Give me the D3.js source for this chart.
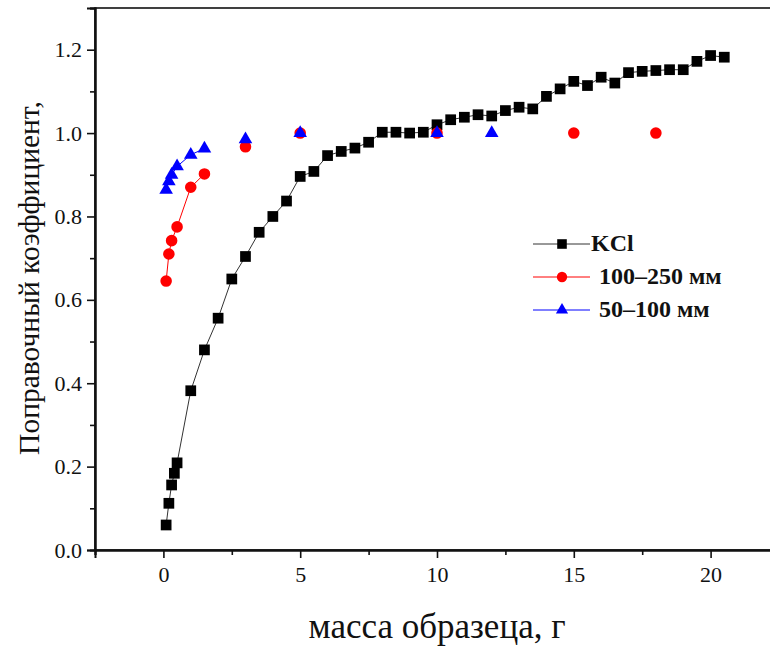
<!DOCTYPE html>
<html>
<head>
<meta charset="utf-8">
<script src="https://cdn.jsdelivr.net/npm/d3@7"></script>
<style>
    body { margin: 0; background: #fff; }
    svg { display: block; }
    svg text { font-family: "Liberation Serif", "Times New Roman", serif; }
    .tick text { font-size: 22px; fill: #111; }
</style>
</head>
<body>
<div id="container"><svg></svg></div>
<script>
const SVG_WIDTH = 770;
const SVG_HEIGHT = 646;

// KCl
const kcl_x = [0.1, 0.2, 0.3, 0.4, 0.5, 1.0, 1.5, 2.0, 2.5, 3.0, 3.5, 4.0, 4.5, 5.0, 5.5,
    6.0, 6.5, 7.0, 7.5, 8.0, 8.5, 9.0, 9.5, 10.0, 10.5, 11.0, 11.5, 12.0, 12.5, 13.0,
    13.5, 14.0, 14.5, 15.0, 15.5, 16.0, 16.5, 17.0, 17.5, 18.0, 18.5, 19.0, 19.5, 20.0, 20.5];
const kcl_y = [0.06, 0.112, 0.156, 0.184, 0.209, 0.382, 0.48, 0.556, 0.65, 0.704, 0.762, 0.8, 0.837, 0.896, 0.908,
    0.946, 0.956, 0.964, 0.978, 1.002, 1.002, 1.0, 1.002, 1.02, 1.032, 1.038, 1.044, 1.041, 1.054, 1.062,
    1.058, 1.088, 1.106, 1.124, 1.114, 1.134, 1.12, 1.145, 1.148, 1.15, 1.152, 1.152, 1.172, 1.186, 1.182];

// 100–250 мм
const big_x = [0.1, 0.2, 0.3, 0.5, 1.0, 1.5, 3.0, 5.0, 10.0, 15.0, 18.0];
const big_y = [0.645, 0.71, 0.742, 0.775, 0.87, 0.902, 0.967, 1.0, 1.0, 1.0, 1.0];

// 50–100 мм
const small_x = [0.1, 0.2, 0.3, 0.5, 1.0, 1.5, 3.0, 5.0, 10.0, 12.0];
const small_y = [0.864, 0.884, 0.9, 0.92, 0.948, 0.963, 0.985, 1.0, 1.0, 1.0];

// only the first points of the two fractions are joined by a line in the original
const JOINED = 6;

const x_ticks = [0, 5, 10, 15, 20];
const x_minor = [-2.5, 2.5, 7.5, 12.5, 17.5, 22.5];
const y_ticks = [0.0, 0.2, 0.4, 0.6, 0.8, 1.0, 1.2];
const y_minor = [0.1, 0.3, 0.5, 0.7, 0.9, 1.1, 1.3];

const series = [
    {name: 'KCl', xs: kcl_x, ys: kcl_y, color: '#000', line: '#333', symbol: d3.symbolSquare, size: 115, joined: kcl_x.length},
    {name: '100\u2013250 мм', xs: big_x, ys: big_y, color: '#ff0000', line: '#ff0000', symbol: d3.symbolCircle, size: 105, joined: JOINED},
    {name: '50\u2013100 мм', xs: small_x, ys: small_y, color: '#0000ff', line: '#0000ff', symbol: d3.symbolTriangle, size: 80, joined: JOINED}
];

const PLOT = {left: 95, right: 779, top: 8, bottom: 550};

let x = d3.scaleLinear().domain([-2.5, 22.5]).range([PLOT.left, PLOT.right]);
let y = d3.scaleLinear().domain([0, 1.3]).range([PLOT.bottom, PLOT.top]);

function draw_axes(svg) {
    // frame
    svg.append('rect')
        .attr('x', PLOT.left)
        .attr('y', PLOT.top)
        .attr('width', PLOT.right - PLOT.left)
        .attr('height', PLOT.bottom - PLOT.top)
        .attr('fill', 'none')
        .attr('stroke', '#111')
        .attr('stroke-width', 1.6);

    svg.append('g')
        .attr('transform', `translate(0, ${PLOT.bottom})`)
        .call(d3.axisBottom(x).tickValues(x_ticks).tickSize(8).tickPadding(8).tickFormat(d3.format('d')));
    svg.append('g')
        .attr('transform', `translate(0, ${PLOT.bottom})`)
        .call(d3.axisBottom(x).tickValues(x_minor).tickSize(5).tickFormat(''));

    svg.append('g')
        .attr('transform', `translate(${PLOT.left}, 0)`)
        .call(d3.axisLeft(y).tickValues(y_ticks).tickSize(8).tickPadding(5).tickFormat(d3.format('.1f')));
    svg.append('g')
        .attr('transform', `translate(${PLOT.left}, 0)`)
        .call(d3.axisLeft(y).tickValues(y_minor).tickSize(5).tickFormat(''));

    svg.selectAll('.domain')
        .attr('stroke', '#111')
        .attr('stroke-width', 2);
    svg.selectAll('.tick line')
        .attr('stroke', '#111')
        .attr('stroke-width', 1.6);

    svg.append('text')
        .attr('text-anchor', 'middle')
        .attr('x', 437)
        .attr('y', 638)
        .style('font-size', '35px')
        .attr('fill', '#111')
        .text('масса образеца, г');

    svg.append('text')
        .attr('text-anchor', 'middle')
        .attr('transform', `translate(39, 278) rotate(-90)`)
        .style('font-size', '29.5px')
        .attr('fill', '#111')
        .text('Поправочный коэффициент,');
}

function draw_series(svg) {
    series.forEach(s => {
        let pts = s.xs.map((v, i) => [v, s.ys[i]]);
        let line = d3.line()
            .x(d => x(d[0]))
            .y(d => y(d[1]));
        svg.append('path')
            .datum(pts.slice(0, s.joined))
            .attr('d', line)
            .attr('fill', 'none')
            .attr('stroke', s.line)
            .attr('stroke-width', 1);
        svg.append('g')
            .selectAll('path')
            .data(pts)
            .enter()
            .append('path')
            .attr('transform', d => `translate(${x(d[0])}, ${y(d[1])})`)
            .attr('d', d3.symbol().type(s.symbol).size(s.size))
            .attr('fill', s.color);
    });
}

function draw_legend(svg) {
    let legend = svg.append('g')
        .attr('transform', 'translate(533, 244)');
    let rows = legend.selectAll('g')
        .data(series)
        .enter()
        .append('g')
        .attr('transform', (d, i) => `translate(0, ${i * 33})`);
    rows.append('line')
        .attr('x1', 0)
        .attr('x2', 57)
        .attr('stroke', d => d.line)
        .attr('stroke-width', 1);
    rows.append('path')
        .attr('transform', 'translate(29, 0)')
        .attr('d', d => d3.symbol().type(d.symbol).size(d.size * 0.8)())
        .attr('fill', d => d.color);
    rows.append('text')
        .attr('x', (d, i) => i == 0 ? 58 : 66)
        .attr('dominant-baseline', 'middle')
        .attr('dy', 1)
        .style('font-size', '24px')
        .style('font-weight', 'bold')
        .attr('fill', '#111')
        .text(d => d.name);
}

let svg = d3.select('#container')
    .select('svg')
    .attr('width', SVG_WIDTH)
    .attr('height', SVG_HEIGHT)
    .style('overflow', 'hidden');

draw_axes(svg);
draw_series(svg);
draw_legend(svg);
</script>
</body>
</html>
